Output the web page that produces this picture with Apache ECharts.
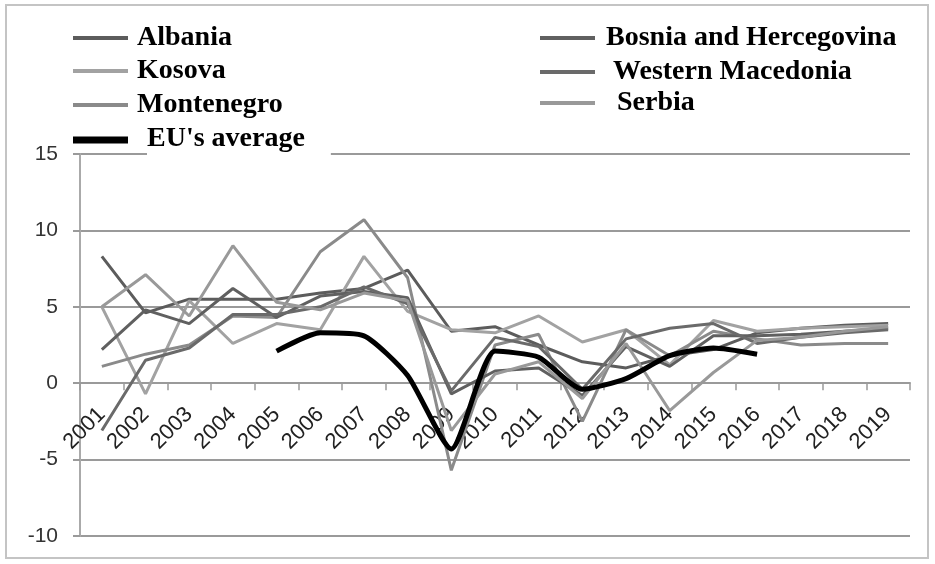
<!DOCTYPE html>
<html>
<head>
<meta charset="utf-8">
<script src="https://cdn.jsdelivr.net/npm/echarts@6/dist/echarts.min.js"></script>
<style>
  html, body { margin: 0; padding: 0; background: #fff; }
  #chart { width: 935px; height: 564px; }
</style>
</head>
<body>
<div id="chart"></div>
<script>
const years = ['2001', '2002', '2003', '2004', '2005', '2006', '2007', '2008', '2009', '2010',
               '2011', '2012', '2013', '2014', '2015', '2016', '2017', '2018', '2019'];

const albania    = [8.3, 4.6, 5.5, 5.5, 5.5, 5.9, 6.2, 7.4, 3.4, 3.7, 2.5, 1.4, 1.0, 1.8, 2.2, 3.3, 3.6, 3.8, 3.9];
const kosova     = [5.0, -0.7, 5.4, 2.6, 3.9, 3.5, 8.3, 4.7, 3.5, 3.3, 4.4, 2.7, 3.5, 1.2, 4.1, 3.4, 3.6, 3.7, 3.8];
const montenegro = [1.1, 1.9, 2.5, 4.4, 4.3, 8.6, 10.7, 6.9, -5.7, 2.5, 3.2, -2.5, 3.5, 1.8, 3.4, 2.9, 2.5, 2.6, 2.6];
const bosnia     = [2.2, 4.8, 3.9, 6.2, 4.3, 5.7, 6.0, 5.6, -0.7, 0.8, 1.0, -0.8, 2.4, 1.1, 3.1, 3.1, 3.2, 3.4, 3.6];
const macedonia  = [-3.1, 1.5, 2.3, 4.5, 4.5, 5.0, 6.3, 5.2, -0.5, 3.0, 2.4, -0.4, 2.9, 3.6, 3.9, 2.6, 3.0, 3.3, 3.5];
const serbia     = [5.0, 7.1, 4.4, 9.0, 5.3, 4.8, 5.9, 5.4, -3.1, 0.6, 1.4, -1.0, 2.6, -1.8, 0.7, 2.8, 3.0, 3.4, 3.7];
const euAverage  = [null, null, null, null, 2.1, 3.3, 3.1, 0.5, -4.3, 2.1, 1.7, -0.4, 0.3, 1.8, 2.3, 1.9, null, null, null];

const yTicks = [-10, -5, 0, 5, 10, 15];

const chart = echarts.init(document.getElementById('chart'));

const legendFont = {
    fontFamily: 'Liberation Serif',
    fontWeight: 'bold',
    fontSize: 28,
    color: '#000',
    lineHeight: 30
};

// icon-text gap is 5px by default, extra gap goes into the text padding
function legendAt(name, left, top, gap, lift) {
    return {
        data: [name],
        left: left,
        top: top,
        padding: 0,
        icon: 'rect',
        itemWidth: 55,
        itemHeight: 4,
        selectedMode: false,
        textStyle: Object.assign({}, legendFont, { padding: [0, 0, lift || 0, gap] })
    };
}

function lineSeries(name, data, color, width) {
    return {
        name: name,
        type: 'line',
        data: data,
        showSymbol: false,
        symbol: 'none',
        color: color,
        lineStyle: { color: color, width: width || 3 }
    };
}

const option = {
    backgroundColor: '#fff',
    animation: false,
    grid: { left: 80, right: 25, top: 154, bottom: 28, containLabel: false, outerBoundsMode: 'none' },
    legend: [
        legendAt('Albania', 73, 23, 4),
        legendAt('Kosova', 73, 56, 4),
        legendAt('Montenegro', 73, 90, 4),
        {
            data: ["EU's average"],
            left: 73,
            top: 123,
            padding: 0,
            icon: 'rect',
            itemWidth: 55,
            itemHeight: 7,
            selectedMode: false,
            formatter: function(name) { return '{s|}{t|' + name + '}'; },
            textStyle: Object.assign({}, legendFont, {
                rich: {
                    s: { width: 14 },
                    t: Object.assign({}, legendFont, {
                        backgroundColor: '#fff',
                        padding: [2, 26, 4, 0]
                    })
                }
            })
        },
        legendAt('Bosnia and Hercegovina', 540, 17, 6, 12),
        legendAt('Western Macedonia', 540, 57, 13),
        legendAt('Serbia', 540, 86, 17, 4)
    ],
    xAxis: [{
        type: 'category',
        data: years,
        boundaryGap: true,
        axisLine: { onZero: true, lineStyle: { color: '#9a9a9a', width: 2 } },
        axisTick: { show: true, length: 7, lineStyle: { color: '#9a9a9a', width: 1.5 } },
        axisLabel: { show: false }
    }, {
        // labels only, hung just under the zero line
        type: 'category',
        data: years,
        boundaryGap: true,
        position: 'bottom',
        axisLine: { show: false, onZero: false },
        axisTick: { show: false },
        axisLabel: {
            rotate: 45,
            margin: -125,
            interval: 0,
            color: '#222',
            fontFamily: 'Liberation Sans',
            fontSize: 22
        }
    }],
    yAxis: {
        type: 'value',
        min: yTicks[0],
        max: yTicks[yTicks.length - 1],
        interval: 5,
        axisLine: { show: true, lineStyle: { color: '#aaa', width: 2 } },
        axisTick: { show: true, length: 7, lineStyle: { color: '#9a9a9a', width: 2 } },
        axisLabel: {
            margin: 22,
            color: '#333',
            fontFamily: 'Liberation Sans',
            fontSize: 21
        },
        splitLine: { show: true, lineStyle: { color: '#9a9a9a', width: 2 } }
    },
    graphic: [{
        type: 'rect',
        silent: true,
        z: -1,
        shape: { x: 6, y: 5, width: 922, height: 553 },
        style: { fill: 'none', stroke: '#c4c4c4', lineWidth: 2 }
    }],
    series: [
        lineSeries('Albania', albania, '#5c5c5c'),
        lineSeries('Kosova', kosova, '#a2a2a2'),
        lineSeries('Montenegro', montenegro, '#8a8a8a'),
        lineSeries('Bosnia and Hercegovina', bosnia, '#606060'),
        lineSeries('Western Macedonia', macedonia, '#6a6a6a'),
        lineSeries('Serbia', serbia, '#999999'),
        Object.assign(lineSeries("EU's average", euAverage, '#000', 5), { smooth: 0.2, z: 5 })
    ]
};

chart.setOption(option);

window.addEventListener('resize', function() {
    chart.resize();
});
</script>
</body>
</html>
